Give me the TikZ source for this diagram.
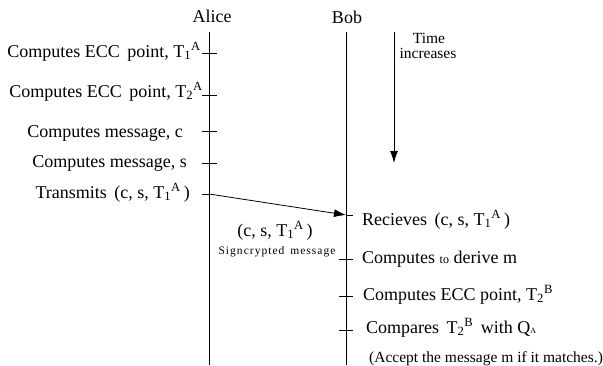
\documentclass[tikz,border=0pt]{standalone}
\usepackage{fontspec}
\setmainfont{Liberation Serif}
\usetikzlibrary{arrows.meta, math, positioning}

\newcommand{\Tsub}[2]{T\textsubscript{#1}\textsuperscript{#2}}

\begin{document}
\begin{tikzpicture}[x=1pt,y=-1pt,
  lbl/.style={font=\fontsize{18}{20}\selectfont, inner sep=0pt},
  note/.style={font=\fontsize{15.5}{17}\selectfont, inner sep=0pt},
  tiny/.style={font=\fontsize{11.5}{13}\addfontfeature{LetterSpace=9}\selectfont, inner sep=0pt},
  life/.style={line width=0.8pt},
  tick/.style={line width=0.8pt},
  msg/.style={-{Latex[length=12pt,width=8pt]}, line width=0.8pt}]

\useasboundingbox (0,0) rectangle (603,365);

\tikzmath{
\xa = 209; %Alice
\xb = 346; %Bob
\xt = 394; %time arrow
\ytop = 32;
\ybot = 365;
}

%lifelines:
\node[lbl, anchor=base] (alice) at (212,22) {Alice};
\node[lbl, anchor=base] (bob) at (347,23) {Bob};
\coordinate (atop) at (\xa,\ytop);
\coordinate (abot) at (\xa,\ybot);
\coordinate (btop) at (\xb,\ytop);
\coordinate (bbot) at (\xb,\ybot);
\draw[life] (atop) -- (abot);
\draw[life] (btop) -- (bbot);

%time arrow
\coordinate (ttop) at (\xt,\ytop);
\coordinate (tbot) at (\xt,163);
\draw[msg] (ttop) -- (tbot);
\node[note, anchor=base] (time) at (429,43) {Time};
\node[note, anchor=base] (incr) at (428,58) {increases};

%Alice side
\foreach \n/\y in {1/53,2/95,3/131,4/163}{
  \coordinate (a\n) at (\xa,\y);
  \draw[tick] ([xshift=-7pt]a\n) -- ([xshift=8pt]a\n);
}
\coordinate (a5) at (\xa,194);
\draw[tick] ([xshift=-7pt]a5) -- (a5);
\node[lbl, anchor=base east] (ecc1) at (201,57) {Computes ECC\, point, \Tsub{1}{A}};
\node[lbl, anchor=base east] (ecc2) at (203,97) {Computes ECC\, point, \Tsub{2}{A}};
\node[lbl, anchor=base east] (msgc) at (183,137) {Computes message, c};
\node[lbl, anchor=base east] (msgs) at (187,167) {Computes message, s};
\node[lbl, anchor=base east] (tx) at (190,198) {Transmits\, (c, s, \Tsub{1}{A}\,)};

%message
\coordinate (b1) at (\xb,215);
\draw[msg] (a5) -- (b1);
\node[lbl, anchor=base] (cst) at (275,236) {(c, s, \Tsub{1}{A}\,)};
\node[tiny, anchor=base] (sign) at (277,254) {Signcrypted\, message};

%Bob side
\foreach \n/\y in {2/259,3/296,4/330}{
  \coordinate (b\n) at (\xb,\y);
  \draw[tick] ([xshift=-7pt]b\n) -- ([xshift=7pt]b\n);
}
\draw[tick] (b1) -- ([xshift=7pt]b1);
\node[lbl, anchor=base west] (recv) at (362,225) {Recieves\, (c, s, \Tsub{1}{A}\,)};
\node[lbl, anchor=base west] (derive) at (362,263) {Computes {\fontsize{12}{14}\selectfont to} derive m};
\node[lbl, anchor=base west] (ecc3) at (363,300) {Computes ECC point, \Tsub{2}{B}};
\node[lbl, anchor=base west] (cmp) at (366,333) {Compares\, \Tsub{2}{B}\, with Q{\fontsize{8}{9}\selectfont A}};
\node[note, anchor=base west] (accept) at (369,362) {(Accept the message m if it matches.)};

\end{tikzpicture}
\end{document}
